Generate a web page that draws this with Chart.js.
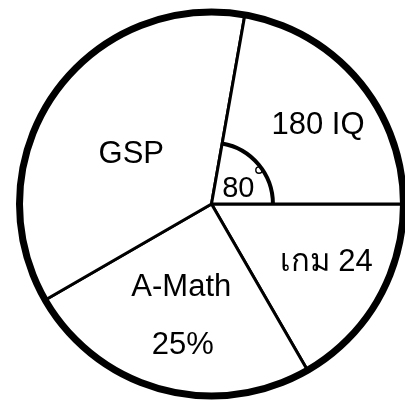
<!DOCTYPE html>
<html>
<head>
<meta charset="utf-8">
<script src="https://cdn.jsdelivr.net/npm/chart.js@4"></script>
<style>
  html, body { margin: 0; padding: 0; background: #fff; }
  #wrap { width: 405px; height: 403px; position: relative; }
</style>
</head>
<body>
<div id="wrap"><canvas id="pieChart"></canvas></div>
<script>
// slices in clockwise order, starting at 3 o'clock
const sliceNames = ['เกม 24', 'A-Math', 'GSP', '180 IQ'];
const sliceDegrees = [60, 90, 130, 80];
const sliceTexts = [['เกม 24'], ['A-Math', '25%'], ['GSP'], ['180 IQ']];
const angleMark = '80';

// where each text line sits inside its slice: fraction of radius + angle nudge (deg)
const textPlace = [
  [{ f: 0.67, a: -3 }],
  [{ f: 0.46, a: 5 }, { f: 0.75, a: -3.5 }],
  [{ f: 0.49, a: -3.5 }],
  [{ f: 0.69, a: 3.5 }]
];

const FONT = '"Liberation Sans", Arial, "Noto Sans", sans-serif';

// thick outer ring, angle arc and all the texts
const decorPlugin = {
  id: 'decor',
  afterDatasetsDraw(chart) {
    const ctx = chart.ctx;
    const arcs = chart.getDatasetMeta(0).data;
    if (!arcs.length) return;
    const cx = arcs[0].x, cy = arcs[0].y, r = arcs[0].outerRadius;

    ctx.save();
    ctx.strokeStyle = '#000';
    ctx.lineWidth = 7;
    ctx.beginPath();
    ctx.arc(cx, cy, r, 0, Math.PI * 2);
    ctx.stroke();

    // angle marker of the 180 IQ slice
    const iq = arcs[3];
    ctx.lineWidth = 4;
    ctx.beginPath();
    ctx.arc(cx, cy, r * 0.32, iq.startAngle, iq.endAngle);
    ctx.stroke();

    ctx.fillStyle = '#000';
    ctx.textAlign = 'center';
    ctx.textBaseline = 'middle';
    ctx.font = '31px ' + FONT;
    arcs.forEach((arc, i) => {
      const mid = (arc.startAngle + arc.endAngle) / 2;
      sliceTexts[i].forEach((t, j) => {
        const p = textPlace[i][j];
        const ang = mid + p.a * Math.PI / 180;
        ctx.fillText(t, cx + Math.cos(ang) * r * p.f, cy + Math.sin(ang) * r * p.f);
      });
    });

    // "80°" label near the centre
    const midIq = (iq.startAngle + iq.endAngle) / 2 + 11 * Math.PI / 180;
    const lx = cx + Math.cos(midIq) * r * 0.16;
    const ly = cy + Math.sin(midIq) * r * 0.16;
    ctx.font = '29px ' + FONT;
    ctx.fillText(angleMark, lx, ly);
    const w = ctx.measureText(angleMark).width;
    ctx.lineWidth = 1.4;
    ctx.beginPath();
    ctx.arc(lx + w / 2 + 4.5, ly - 19, 3.2, 0, Math.PI * 2);
    ctx.stroke();
    ctx.restore();
  }
};

new Chart(document.getElementById('pieChart').getContext('2d'), {
  type: 'pie',
  data: {
    labels: sliceNames,
    datasets: [{
      data: sliceDegrees,
      backgroundColor: '#ffffff',
      borderColor: '#000000',
      borderWidth: 3,
      borderAlign: 'center'
    }]
  },
  options: {
    responsive: true,
    maintainAspectRatio: false,
    animation: false,
    rotation: 90,
    layout: { padding: { left: 18, right: 0, top: 9, bottom: 4 } },
    plugins: {
      legend: { display: false },
      tooltip: { enabled: false },
      title: { display: false }
    }
  },
  plugins: [decorPlugin]
});
</script>
</body>
</html>
